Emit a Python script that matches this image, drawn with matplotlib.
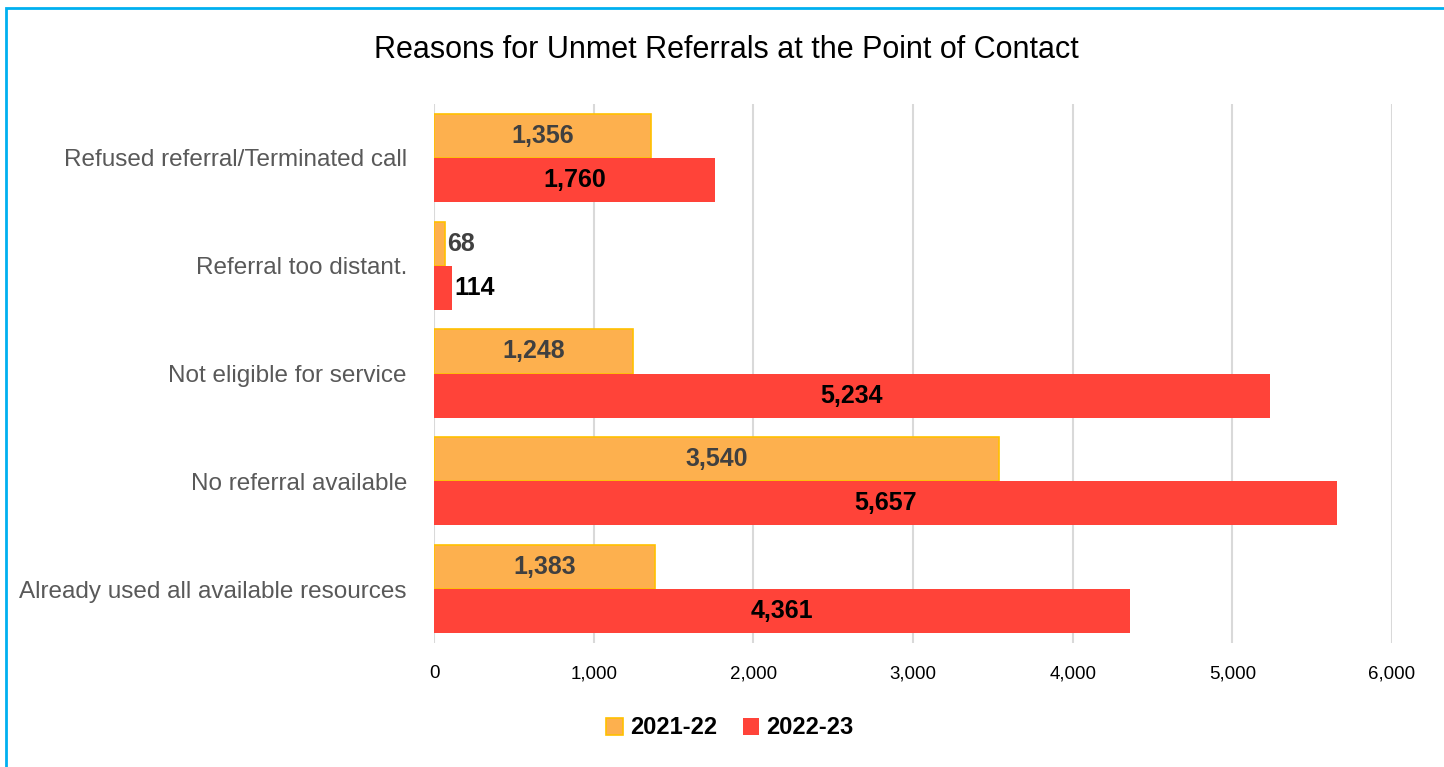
import matplotlib
matplotlib.use("Agg")
import matplotlib.pyplot as plt
from matplotlib.patches import Rectangle
from matplotlib.ticker import FuncFormatter
import numpy as np

categories = ["Refused referral/Terminated call", "Referral too distant.",
              "Not eligible for service", "No referral available",
              "Already used all available resources"]
series_names = ["2021-22", "2022-23"]
vals_2122 = [1356, 68, 1248, 3540, 1383]
vals_2223 = [1760, 114, 5234, 5657, 4361]
xticks = [0, 1000, 2000, 3000, 4000, 5000, 6000]

FAM = ["Liberation Sans Narrow", "Liberation Sans", "DejaVu Sans"]
plt.rcParams['font.family'] = FAM

fig = plt.figure(figsize=(14.44, 7.67), dpi=100)
ax = fig.add_axes([434/1444, 1-643/767, (1392-434)/1444, (643-104)/767])

y = np.arange(len(categories))
h = 0.41
c1, e1 = "#FDB04E", "#FFC000"
c2 = "#FF4339"
b1 = ax.barh(y - h/2, vals_2122, height=h, color=c1, edgecolor=e1, linewidth=1.2, label=series_names[0], zorder=3)
b2 = ax.barh(y + h/2, vals_2223, height=h, color=c2, edgecolor=c2, linewidth=0, label=series_names[1], zorder=3)

ax.set_ylim(len(categories) - 0.5, -0.5)
ax.set_xlim(0, 6000)
ax.set_xticks(xticks)
ax.xaxis.set_major_formatter(FuncFormatter(lambda v, p: f"{int(v):,}"))
ax.set_yticks(y)
ax.set_yticklabels(categories, fontsize=17.5, color="#595959")
ax.tick_params(axis='y', length=0, pad=19.5)
ax.tick_params(axis='x', length=0, pad=16, labelsize=13.5, labelcolor="#000000")
for s in ax.spines.values():
    s.set_visible(False)
ax.grid(axis='x', color="#D9D9D9", linewidth=1.5, zorder=0)
ax.set_axisbelow(True)

def label(bars, vals, color):
    for bar, v in zip(bars, vals):
        cy = bar.get_y() + bar.get_height()/2
        if v < 500:
            ax.text(v + 15, cy, f"{v:,}", ha='left', va='center', fontsize=18,
                    fontweight='bold', color=color, zorder=4)
        else:
            ax.text(v/2, cy, f"{v:,}", ha='center', va='center', fontsize=18,
                    fontweight='bold', color=color, zorder=4)

label(b1, vals_2122, "#404040")
label(b2, vals_2223, "#000000")

fig.text(0.5 + 4/1444, 1-50/767, "Reasons for Unmet Referrals at the Point of Contact",
         ha='center', va='center', fontsize=22, color="#000000")

leg = fig.legend(handles=[b1, b2], labels=series_names, loc='center',
                 bbox_to_anchor=(730/1444, 1-728/767), ncol=2, frameon=False,
                 prop={'size': 17, 'weight': 'bold'}, handlelength=0.7,
                 handleheight=0.7, handletextpad=0.3, columnspacing=1.1)

fig.patches.append(Rectangle((6/1444, -0.1), 1.2, 1.1 - 8/767, transform=fig.transFigure,
                             fill=False, edgecolor="#00B0F0", linewidth=2, zorder=10))

fig.savefig("out.png", dpi=100)
